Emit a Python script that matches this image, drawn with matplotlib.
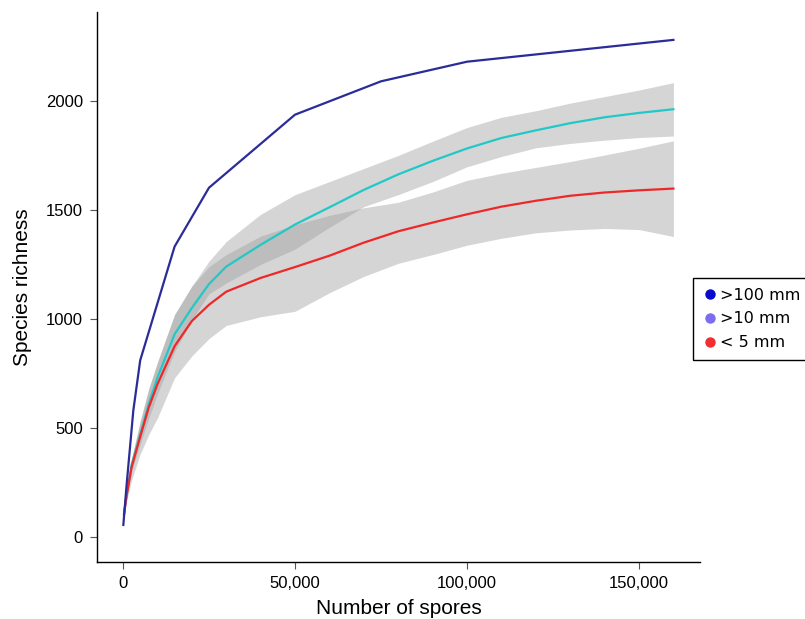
import matplotlib
matplotlib.use("Agg")
import matplotlib.pyplot as plt
from matplotlib.lines import Line2D

plt.rcParams['font.family'] = ['Liberation Sans', 'DejaVu Sans']

# ---- data ----
blue_x = [100, 1000, 3000, 5000, 15000, 25000, 50000, 75000, 100000, 160000]
blue_y = [55, 230, 580, 810, 1332, 1602, 1937, 2090, 2180, 2280]

x = [300, 1000, 2500, 5000, 7500, 10000, 15000, 20000, 25000, 30000, 40000, 50000,
     60000, 70000, 80000, 90000, 100000, 110000, 120000, 130000, 140000, 150000, 160000]

cyan_y = [105, 190, 330, 470, 610, 730, 930, 1050, 1160, 1240, 1340, 1433,
          1512, 1592, 1663, 1725, 1782, 1830, 1865, 1898, 1925, 1945, 1962]
cyan_hi = [115, 210, 360, 530, 680, 800, 1020, 1150, 1265, 1355, 1480, 1570,
           1630, 1690, 1750, 1815, 1878, 1925, 1955, 1990, 2020, 2050, 2084]
cyan_lo = [95, 170, 300, 425, 545, 655, 850, 995, 1115, 1165, 1250, 1320,
           1420, 1515, 1570, 1630, 1698, 1745, 1785, 1805, 1820, 1832, 1839]

red_y = [105, 185, 320, 460, 595, 700, 875, 990, 1065, 1125, 1188, 1238,
         1290, 1350, 1402, 1442, 1480, 1515, 1542, 1565, 1580, 1590, 1598]
red_hi = [115, 205, 360, 530, 680, 800, 1020, 1150, 1240, 1295, 1380, 1432,
          1475, 1510, 1535, 1582, 1636, 1668, 1695, 1722, 1752, 1783, 1817]
red_lo = [95, 160, 260, 380, 470, 545, 730, 830, 910, 970, 1010, 1035,
          1120, 1195, 1255, 1295, 1338, 1370, 1395, 1408, 1415, 1410, 1378]

legend_labels = ['>100 mm', '>10 mm', '< 5 mm']
legend_colors = ['#0a0acd', '#7b6cf0', '#f03030']

xticks = [0, 50000, 100000, 150000]
xtick_labels = ['0', '50,000', '100,000', '150,000']
yticks = [0, 500, 1000, 1500, 2000]

# ---- figure ----
fig = plt.figure(figsize=(8.05, 6.19), dpi=100)
ax = fig.add_axes([97/805, 1-562/619, (700-97)/805, (562-12)/619])

band_col = (157/255, 157/255, 157/255)
ax.fill_between(x, cyan_lo, cyan_hi, color=band_col, alpha=0.42, linewidth=0)
ax.fill_between(x, red_lo, red_hi, color=band_col, alpha=0.42, linewidth=0)

ax.plot(x, cyan_y, color='#22c8c8', lw=1.6)
ax.plot(x, red_y, color='#ee2828', lw=1.6)
ax.plot(blue_x, blue_y, color='#2c2c98', lw=1.6)

ax.set_xlim(-7558, 167733)
ax.set_ylim(-115, 2408)
ax.set_xticks(xticks)
ax.set_xticklabels(xtick_labels)
ax.set_yticks(yticks)

for s in ['top', 'right']:
    ax.spines[s].set_visible(False)
for s in ['left', 'bottom']:
    ax.spines[s].set_linewidth(1.0)
    ax.spines[s].set_color('black')

ax.tick_params(axis='both', direction='out', length=5, width=0.8, color='#555555',
               labelsize=12, labelcolor='black', pad=5)

ax.set_xlabel('Number of spores', fontsize=15, labelpad=6)
ax.set_ylabel('Species richness', fontsize=15, labelpad=10)

handles = [Line2D([], [], linestyle='none', marker='o', markersize=6.5,
                  markerfacecolor=c, markeredgecolor=c) for c in legend_colors]
leg = fig.legend(handles, legend_labels, loc='upper left',
                 bbox_to_anchor=(692.7/805, 1-278/619), borderaxespad=0,
                 frameon=True, fancybox=False, framealpha=1, edgecolor='black',
                 prop={'family': 'DejaVu Sans', 'size': 11.5},
                 borderpad=0.6, handlelength=1.0, handletextpad=0.1,
                 labelspacing=0.55)
leg.get_frame().set_linewidth(1.0)

fig.savefig('out.png', dpi=100)
